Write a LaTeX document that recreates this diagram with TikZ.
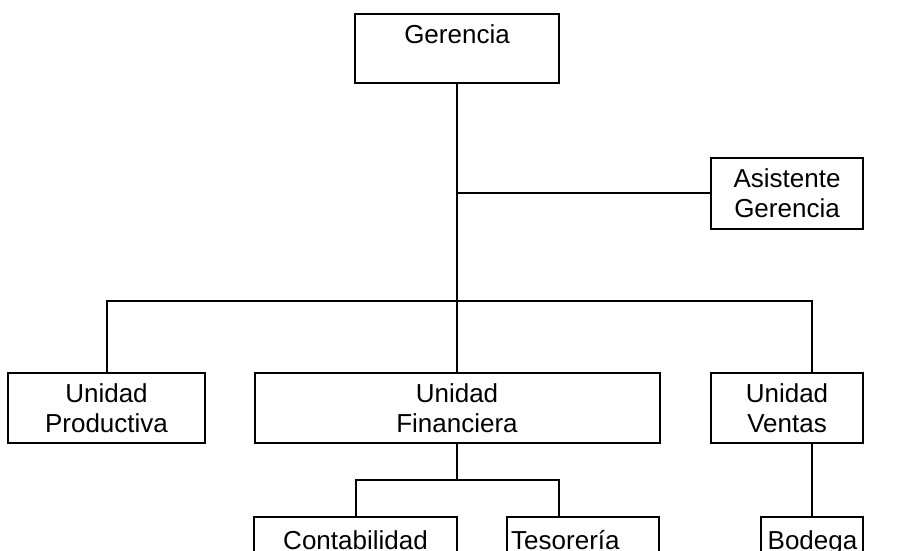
\documentclass[tikz,border=0pt]{standalone}
\usepackage{fontspec}
\setmainfont{Liberation Sans}
\begin{document}
\begin{tikzpicture}[x=1pt,y=-1pt,
  box/.style={draw=black,line width=2pt,rectangle,inner sep=0pt,align=center,
    font=\fontsize{26}{30}\selectfont},
  lbl/.style={inner sep=0pt,font=\fontsize{26}{30}\selectfont},
  con/.style={draw=black,line width=2pt}]
\useasboundingbox (0,0) rectangle (905,550);
\clip (0,0) rectangle (905,550);
% boxes
\node[box,minimum width=204,minimum height=69] (g) at (457,48.5) {};
\node[lbl,anchor=base] (gt) at (457,43) {Gerencia};
\node[box,minimum width=152,minimum height=71] (a) at (787,193) {Asistente\\Gerencia};
\node[box,minimum width=197,minimum height=70] (p) at (106.5,408) {Unidad\\Productiva};
\node[box,minimum width=405,minimum height=70] (f) at (457,408) {Unidad\\Financiera};
\node[box,minimum width=152,minimum height=70] (v) at (787,408) {Unidad\\Ventas};
\node[box,minimum width=203,minimum height=70] (c) at (355.5,552) {};
\node[lbl,anchor=base] (ct) at (355.5,549) {Contabilidad};
\node[box,minimum width=152,minimum height=70] (t) at (583,552) {};
\node[lbl,anchor=base west] (tt) at (511,549) {Tesorería};
\node[box,minimum width=102,minimum height=70] (bo) at (812,552) {};
\node[lbl,anchor=base] (bt) at (812.5,549) {Bodega};
% junctions
\coordinate (j1) at (457,301);
\coordinate (j2) at (457,480);
\coordinate (tin) at (559,517);
% connectors
\draw[con] (g.south) -- (f.north);
\draw[con] (g.south |- a.west) -- (a.west);
\draw[con] (p.north) |- (j1) -| (bo.north |- v.north);
\draw[con] (f.south) -- (j2);
\draw[con] (c.north) |- (j2) -| (tin);
\draw[con] (bo.north |- v.south) -- (bo.north);
\end{tikzpicture}
\end{document}
